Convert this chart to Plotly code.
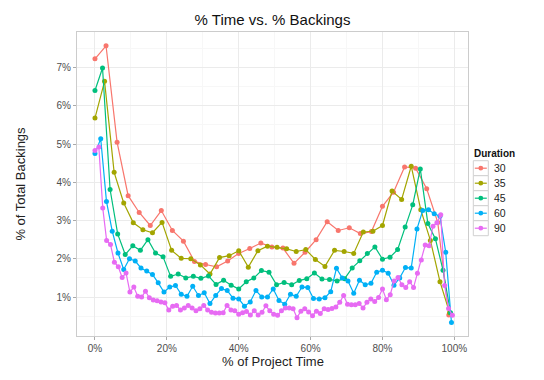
import plotly.graph_objects as go

# Duration groups (days) and ggplot default hue colours
durations = ["30", "35", "45", "60", "90"]
colors = ["#F8766D", "#A3A500", "#00BF7D", "#00B0F6", "#E76BF3"]

# % of total backings per time step
backings_30 = [7.23, 7.57, 5.05, 3.65, 3.21, 2.87, 3.26, 2.74, 2.46, 1.93, 1.85,
               1.79, 1.94, 2.14, 2.27, 2.41, 2.31, 2.28, 1.88, 2.17, 2.50, 2.97,
               2.74, 2.81, 2.66, 2.71, 3.37, 3.74, 4.40, 4.37, 3.83, 2.95, 0.53]

backings_35 = [5.68, 6.64, 4.26, 3.46, 2.94, 2.76, 2.68, 2.95, 2.22, 2.01, 2.00,
               1.84, 1.60, 2.03, 2.08, 2.21, 1.78, 2.21, 2.33, 2.30, 2.26, 2.19,
               2.24, 1.98, 1.80, 2.22, 2.19, 2.14, 2.70, 2.72, 2.87, 3.77, 3.55,
               4.42, 3.28, 2.48, 1.40, 0.59]

backings_45 = [6.40, 6.99, 3.81, 2.65, 2.11, 2.34, 2.22, 2.50, 2.15, 2.05, 1.54,
               1.60, 1.50, 1.54, 1.49, 1.55, 1.33, 1.44, 1.31, 1.21, 1.40, 1.50,
               1.69, 1.65, 1.32, 1.38, 1.32, 1.43, 1.48, 1.63, 1.47, 1.46, 1.42,
               1.48, 1.76, 1.95, 2.14, 2.31, 1.99, 2.04, 2.24, 2.83, 3.41, 4.35,
               2.92, 2.52, 1.70, 0.59]

backings_60 = [4.75, 5.14, 3.50, 2.72, 2.15, 1.72, 2.00, 1.94, 1.76, 1.68, 1.59,
               1.37, 1.13, 1.26, 1.30, 1.07, 1.02, 1.28, 1.04, 1.11, 0.83, 1.04,
               1.22, 1.17, 0.97, 0.95, 0.76, 0.87, 1.17, 1.00, 1.00, 1.21, 0.91,
               0.81, 1.07, 1.02, 1.26, 1.25, 0.96, 0.95, 0.98, 1.14, 1.75, 1.50,
               1.42, 1.10, 1.44, 1.32, 1.36, 1.65, 1.70, 1.62, 1.31, 1.50, 1.77,
               1.76, 2.78, 3.26, 3.28, 3.18, 3.11, 2.17, 0.33]

backings_90 = [4.83, 4.92, 3.33, 2.48, 2.37, 1.91, 1.79, 1.51, 1.63, 1.13, 1.26,
               1.02, 1.00, 1.15, 0.98, 0.92, 0.90, 0.87, 0.85, 0.66, 0.76, 0.78,
               0.66, 0.71, 0.78, 0.71, 0.64, 0.69, 0.78, 0.66, 0.60, 0.58, 0.58,
               0.59, 0.78, 0.66, 0.64, 0.55, 0.59, 0.62, 0.53, 0.64, 0.53, 0.60,
               0.77, 0.64, 0.55, 0.52, 0.64, 0.71, 0.71, 0.69, 0.46, 0.63, 0.69,
               0.61, 0.51, 0.63, 0.57, 0.69, 0.67, 0.70, 0.74, 0.86, 1.04, 0.81,
               0.80, 0.80, 0.83, 0.71, 0.86, 0.95, 0.88, 0.99, 1.21, 0.93, 1.06,
               1.42, 1.51, 1.32, 1.25, 1.40, 1.25, 1.62, 1.97, 2.36, 2.34, 2.85,
               2.94, 3.15, 1.30, 0.70, 0.52]

series = [backings_30, backings_35, backings_45, backings_60, backings_90]

x_tick_vals = [0, 20, 40, 60, 80, 100]
x_tick_text = ["0%", "20%", "40%", "60%", "80%", "100%"]
y_tick_vals = [1, 2, 3, 4, 5, 6, 7]
y_tick_text = ["1%", "2%", "3%", "4%", "5%", "6%", "7%"]
legend_title = "Duration"
x_title = "% of Project Time"
y_title = "% of Total Backings"


def pct_time(values):
    # time step index expressed as % of the project's time steps
    n = len(values)
    return [100.0 * i / (n - 0.5) for i in range(n)]


fig = go.Figure()
for name, col, vals in zip(durations, colors, series):
    fig.add_trace(go.Scatter(
        x=pct_time(vals), y=vals, name=name, mode="lines+markers",
        line=dict(color=col, width=1.2),
        marker=dict(color=col, size=5),
        showlegend=False,
    ))

font_family = "Liberation Sans, Arial, sans-serif"
grid_major = "#ebebeb"
grid_minor = "#f7f7f7"

# the page body adds an 8px offset, so the figure is sized to the visible area
W, H = 536, 372
ML, MR, MT, MB = 69, 76, 24, 44
PW, PH = W - ML - MR, H - MT - MB


def px_x(fx):
    return (fx - ML) / PW


def px_y(fy):
    return (H - MB - fy) / PH


shapes = []
annotations = []

# x-axis title placed as text below the tick labels
annotations.append(dict(text=x_title, xref="paper", yref="paper",
                        x=0.5, y=px_y(353.5), xanchor="center", yanchor="middle",
                        showarrow=False, font=dict(size=13, color="#222222")))

# ggplot-style legend: boxed keys with a line and a point
key_left, key_w, key_h, key_top = 465.3, 15.0, 15.0, 152.7
annotations.append(dict(text="<b>" + legend_title + "</b>", xref="paper", yref="paper",
                        x=px_x(key_left - 1), y=px_y(key_top - 7), xanchor="left",
                        yanchor="middle", showarrow=False,
                        font=dict(size=10, color="#111111")))
for k, (name, col) in enumerate(zip(durations, colors)):
    top = key_top + k * key_h
    cy = top + key_h / 2
    shapes.append(dict(type="rect", xref="paper", yref="paper",
                       x0=px_x(key_left), x1=px_x(key_left + key_w),
                       y0=px_y(top), y1=px_y(top + key_h),
                       line=dict(color="#d0d0d0", width=1), fillcolor="white"))
    shapes.append(dict(type="line", xref="paper", yref="paper",
                       x0=px_x(key_left + 1.5), x1=px_x(key_left + key_w - 1.5),
                       y0=px_y(cy), y1=px_y(cy),
                       line=dict(color=col, width=1.2)))
    shapes.append(dict(type="circle", xref="paper", yref="paper",
                       x0=px_x(key_left + key_w / 2 - 2.4), x1=px_x(key_left + key_w / 2 + 2.4),
                       y0=px_y(cy - 2.4), y1=px_y(cy + 2.4),
                       line=dict(color=col, width=0), fillcolor=col))
    annotations.append(dict(text=name, xref="paper", yref="paper",
                            x=px_x(key_left + key_w + 3.5), y=px_y(cy), xanchor="left",
                            yanchor="middle", showarrow=False,
                            font=dict(size=10.5, color="#222222")))

fig.update_layout(
    width=W, height=H,
    margin=dict(l=ML, r=MR, t=MT, b=MB, autoexpand=False),
    paper_bgcolor="white", plot_bgcolor="white",
    font=dict(family=font_family, color="#222222"),
    showlegend=False,
    shapes=shapes, annotations=annotations,
    title=dict(text="% Time vs. % Backings", x=0.5, xref="paper",
               y=1 - 12 / H, yref="container", yanchor="middle",
               xanchor="center", font=dict(size=15, color="#111111")),
    xaxis=dict(range=[-5.0, 103.8], tickvals=x_tick_vals, ticktext=x_tick_text,
               automargin=False,
               showgrid=True, gridcolor=grid_major, gridwidth=1,
               minor=dict(dtick=10, tick0=0, showgrid=True, gridcolor=grid_minor),
               showline=True, mirror=True, linecolor="#cccccc", linewidth=1,
               ticks="outside", ticklen=3, tickcolor="#aaaaaa",
               tickfont=dict(size=10, color="#4d4d4d"), zeroline=False),
    yaxis=dict(range=[-0.02, 7.93], tickvals=y_tick_vals, ticktext=y_tick_text,
               automargin=False,
               showgrid=True, gridcolor=grid_major, gridwidth=1,
               minor=dict(dtick=0.5, tick0=0, showgrid=True, gridcolor=grid_minor),
               showline=True, mirror=True, linecolor="#cccccc", linewidth=1,
               ticks="outside", ticklen=3, tickcolor="#aaaaaa",
               tickfont=dict(size=10, color="#4d4d4d"), zeroline=False,
               title=dict(text=y_title, font=dict(size=13, color="#222222"),
                          standoff=27)),
)

fig.write_html("out.html")
